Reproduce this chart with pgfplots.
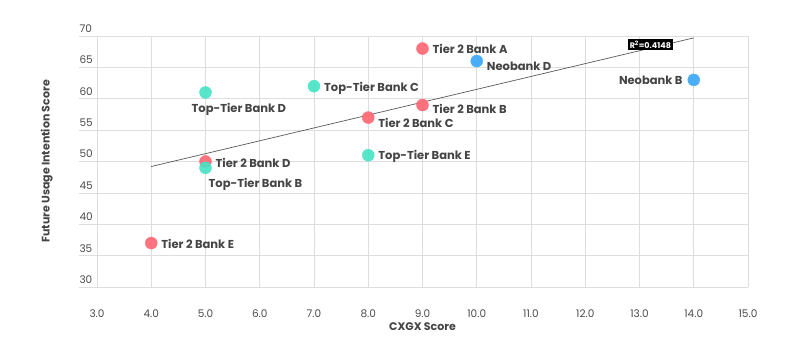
\documentclass[border=0pt]{standalone}
\usepackage{fontspec}
\setmainfont{Poppins}
\usepackage{pgfplots}
\pgfplotsset{compat=1.18}
\definecolor{redpt}{HTML}{FF6B78}
\definecolor{tealpt}{HTML}{45E3C4}
\definecolor{bluept}{HTML}{4AAEF7}
\definecolor{gridgray}{HTML}{DEDEDE}
\definecolor{txt}{HTML}{444444}
\definecolor{ticktxt}{HTML}{4A4A4A}
\begin{document}
\begin{tikzpicture}
\begin{axis}[
  at={(0,0)}, anchor=south west,
  scale only axis, width=651pt, height=251pt,
  xmin=3, xmax=15, ymin=30, ymax=70,
  xtick={3,4,...,15}, ytick={30,35,...,70},
  xticklabel={\pgfmathprintnumber[fixed,fixed zerofill,precision=1]{\tick}},
  /pgf/number format/assume math mode=true,
  grid=major, grid style={gridgray, line width=0.6pt},
  axis line style={draw=none},
  tick pos=left, tick align=outside, major tick length=18pt,
  xtick style={draw=none}, ytick style={gridgray, line width=0.6pt},
  ticklabel style={font=\fontsize{10.5}{12}\selectfont, text=ticktxt},
  yticklabel style={anchor=south west, xshift=-3pt, yshift=0pt},
  xticklabel style={yshift=-1pt},
  xlabel={\bfseries CXGX Score}, ylabel={\bfseries Future Usage Intention Score},
  label style={font=\fontsize{11}{13}\selectfont, text=txt},
  xlabel style={yshift=2pt},
  ylabel style={yshift=20pt},
  clip=false,
]
\addplot[color=black!65, line width=0.7pt] coordinates {(4,49.2) (14,69.7)};
\addplot[only marks, mark=*, mark size=6pt, color=redpt, opacity=0.95, mark options={draw=redpt, fill=redpt}] coordinates {(9,68) (9,59) (8,57) (5,50) (4,37)};
\addplot[only marks, mark=*, mark size=6pt, color=tealpt, opacity=0.9, mark options={draw=tealpt, fill=tealpt}] coordinates {(7,62) (5,61) (8,51) (5,49)};
\addplot[only marks, mark=*, mark size=6pt, color=bluept, mark options={draw=bluept, fill=bluept}] coordinates {(10,66) (14,63)};
\begin{scope}[every node/.style={font=\fontsize{11.5}{13}\selectfont\bfseries, text=txt, inner sep=1pt}]
\node[anchor=west] at ([xshift=9pt]axis cs:9,68) {Tier 2 Bank A};
\node[anchor=west] at ([xshift=9pt,yshift=-5pt]axis cs:10,66) {Neobank D};
\node[anchor=east] at ([xshift=-10pt]axis cs:14,63) {Neobank B};
\node[anchor=west] at ([xshift=9pt,yshift=-2pt]axis cs:7,62) {Top-Tier Bank C};
\node[anchor=north west] at ([xshift=-15pt,yshift=-10pt]axis cs:5,61) {Top-Tier Bank D};
\node[anchor=west] at ([xshift=9pt,yshift=-4pt]axis cs:9,59) {Tier 2 Bank B};
\node[anchor=west] at ([xshift=9pt,yshift=-5pt]axis cs:8,57) {Tier 2 Bank C};
\node[anchor=west] at ([xshift=9pt,yshift=-1pt]axis cs:8,51) {Top-Tier Bank E};
\node[anchor=west] at ([xshift=9pt,yshift=-1pt]axis cs:5,50) {Tier 2 Bank D};
\node[anchor=north west] at ([xshift=2pt,yshift=-9pt]axis cs:5,49) {Top-Tier Bank B};
\node[anchor=west] at ([xshift=9pt,yshift=-1pt]axis cs:4,37) {Tier 2 Bank E};
\node[fill=black, text=white, font=\fontsize{8}{9}\selectfont\bfseries, inner sep=2pt] at (axis cs:13.2,68.6) {R\textsuperscript{2}=0.4148};
\end{scope}
\end{axis}
\pgfresetboundingbox
\useasboundingbox (-97pt,-68pt) rectangle (703pt,287pt);
\end{tikzpicture}
\end{document}
